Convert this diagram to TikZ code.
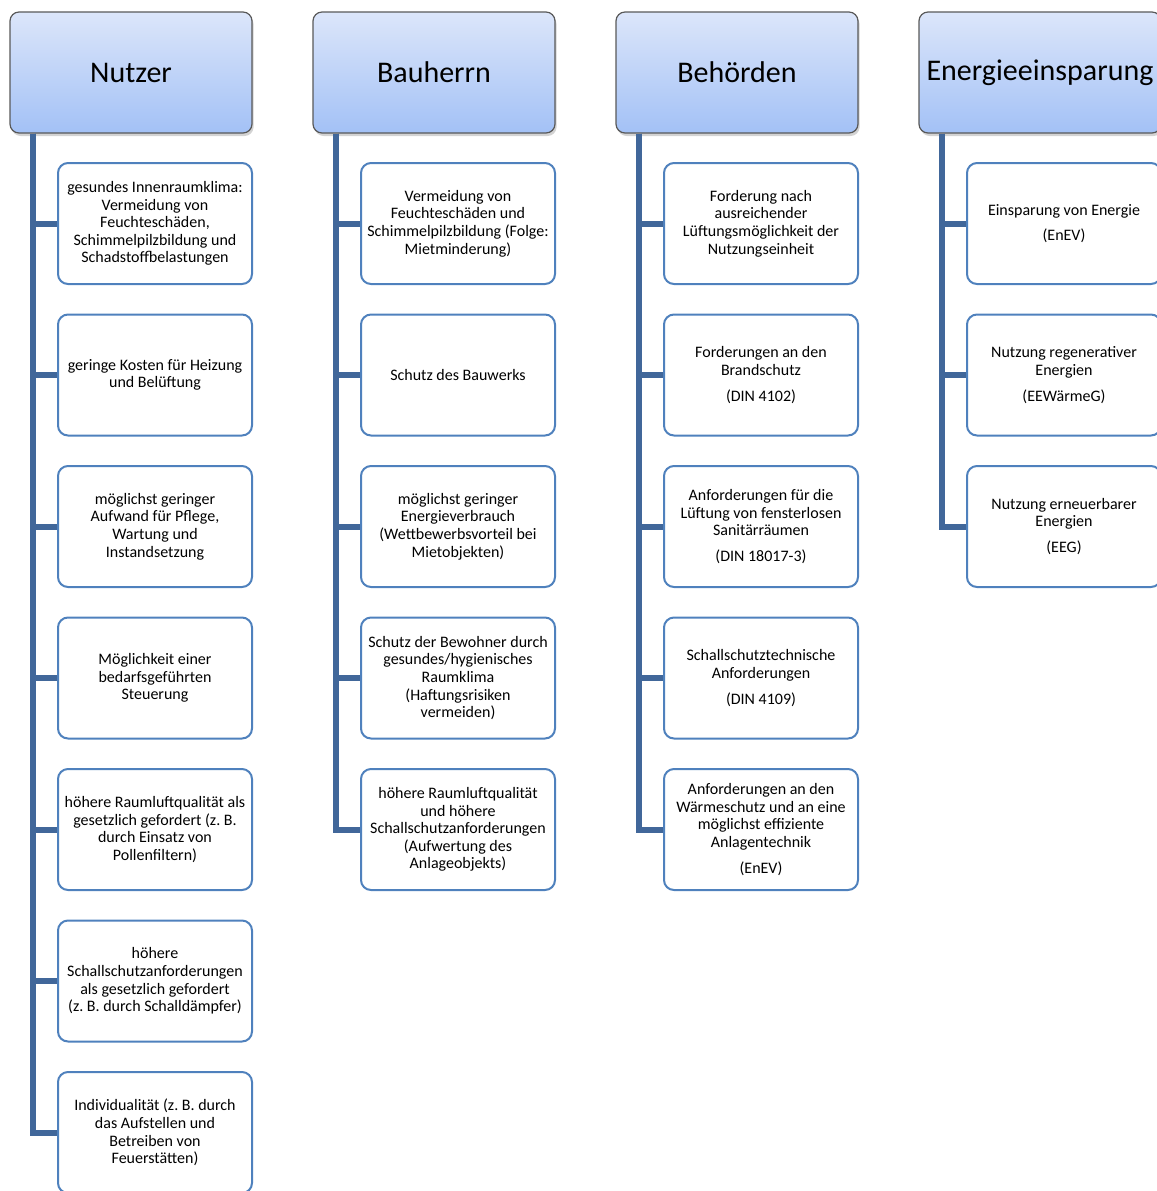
\documentclass[tikz,border=0pt]{standalone}
\usepackage{fontspec}
\setmainfont{Carlito}
\usetikzlibrary{shadows}

\definecolor{headtop}{HTML}{DCE6FA}
\definecolor{headbot}{HTML}{A3C1F6}
\definecolor{trunkblue}{HTML}{41679A}
\definecolor{itemblue}{HTML}{4F81BD}

\tikzset{
  head/.style={draw=gray!70!black, line width=0.6pt, rounded corners=4.5pt,
    top color=headtop, bottom color=headbot,
    drop shadow={opacity=0.35, shadow xshift=0.8pt, shadow yshift=-1.5pt},
    minimum width=121pt, minimum height=60.5pt, inner sep=0pt,
    font=\fontsize{15}{18}\selectfont},
  item/.style={draw=itemblue, line width=1pt, rounded corners=5pt, fill=white,
    minimum width=97pt, minimum height=60.5pt, inner sep=1pt, align=center,
    font=\fontsize{8}{8.8}\selectfont},
  trunk/.style={draw=trunkblue, line width=3pt}
}

\begin{document}
\begin{tikzpicture}[x=0.5pt, y=-0.5pt]
  \useasboundingbox (0,0) rectangle (1157,1191);

  % column heads
  \begin{scope}[every node/.style=head]
    \node (nutzer) at (131,72.5) {Nutzer};
    \node (bauherr) at (434,72.5) {Bauherrn};
    \node (behoerde) at (737,72.5) {Behörden};
    \node (energie) at (1040,72.5) {Energieeinsparung};
  \end{scope}

  % items
  \begin{scope}[every node/.style=item]
    \node (n1) at (155,223.5) {gesundes Innenraumklima:\\Vermeidung von\\Feuchteschäden,\\Schimmelpilzbildung und\\Schadstoffbelastungen};
    \node (n2) at (155,375) {geringe Kosten für Heizung\\und Belüftung};
    \node (n3) at (155,526.5) {möglichst geringer\\Aufwand für Pflege,\\Wartung und\\Instandsetzung};
    \node (n4) at (155,678) {Möglichkeit einer\\bedarfsgeführten\\Steuerung};
    \node (n5) at (155,829.5) {höhere Raumluftqualität als\\gesetzlich gefordert (z.~B.\\durch Einsatz von\\Pollenfiltern)};
    \node (n6) at (155,981) {höhere\\Schallschutzanforderungen\\als gesetzlich gefordert\\(z.~B. durch Schalldämpfer)};
    \node (n7) at (155,1132.5) {Individualität (z.~B. durch\\das Aufstellen und\\Betreiben von\\Feuerstätten)};

    \node (b1) at (458,223.5) {Vermeidung von\\Feuchteschäden und\\Schimmelpilzbildung (Folge:\\Mietminderung)};
    \node (b2) at (458,375) {Schutz des Bauwerks};
    \node (b3) at (458,526.5) {möglichst geringer\\Energieverbrauch\\(Wettbewerbsvorteil bei\\Mietobjekten)};
    \node (b4) at (458,678) {Schutz der Bewohner durch\\gesundes/hygienisches\\Raumklima\\(Haftungsrisiken\\vermeiden)};
    \node (b5) at (458,829.5) {höhere Raumluftqualität\\und höhere\\Schallschutzanforderungen\\(Aufwertung des\\Anlageobjekts)};

    \node (h1) at (761,223.5) {Forderung nach\\ausreichender\\Lüftungsmöglichkeit der\\Nutzungseinheit};
    \node (h2) at (761,375) {Forderungen an den\\Brandschutz\\[4pt](DIN 4102)};
    \node (h3) at (761,526.5) {Anforderungen für die\\Lüftung von fensterlosen\\Sanitärräumen\\[4pt](DIN 18017-3)};
    \node (h4) at (761,678) {Schallschutztechnische\\Anforderungen\\[4pt](DIN 4109)};
    \node (h5) at (761,829.5) {Anforderungen an den\\Wärmeschutz und an eine\\möglichst effiziente\\Anlagentechnik\\[4pt](EnEV)};

    \node (e1) at (1064,223.5) {Einsparung von Energie\\[4pt](EnEV)};
    \node (e2) at (1064,375) {Nutzung regenerativer\\Energien\\[4pt](EEWärmeG)};
    \node (e3) at (1064,526.5) {Nutzung erneuerbarer\\Energien\\[4pt](EEG)};
  \end{scope}

  % trunks and branches
  \coordinate (tn) at ([xshift=12pt]nutzer.south west);
  \coordinate (tb) at ([xshift=12pt]bauherr.south west);
  \coordinate (th) at ([xshift=12pt]behoerde.south west);
  \coordinate (te) at ([xshift=12pt]energie.south west);
  \begin{scope}[every path/.style=trunk]
    \draw (tn) |- (n1.west);
    \draw (tn) |- (n2.west);
    \draw (tn) |- (n3.west);
    \draw (tn) |- (n4.west);
    \draw (tn) |- (n5.west);
    \draw (tn) |- (n6.west);
    \draw (tn) |- (n7.west);
    \draw (tb) |- (b1.west);
    \draw (tb) |- (b2.west);
    \draw (tb) |- (b3.west);
    \draw (tb) |- (b4.west);
    \draw (tb) |- (b5.west);
    \draw (th) |- (h1.west);
    \draw (th) |- (h2.west);
    \draw (th) |- (h3.west);
    \draw (th) |- (h4.west);
    \draw (th) |- (h5.west);
    \draw (te) |- (e1.west);
    \draw (te) |- (e2.west);
    \draw (te) |- (e3.west);
  \end{scope}
\end{tikzpicture}
\end{document}
